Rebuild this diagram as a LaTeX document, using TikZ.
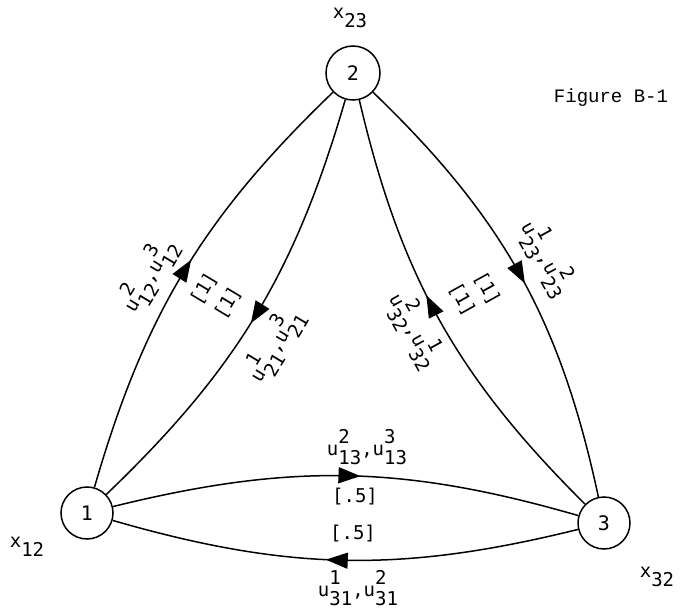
\documentclass[tikz,border=0pt]{standalone}
\usepackage{fontspec}
\setmonofont{DejaVu Sans Mono}
\newfontfamily\figfont{Liberation Mono}
\usetikzlibrary{arrows.meta,decorations.markings}
\newcommand\uu[2]{u\makebox[0pt][l]{\raisebox{0.62em}{#1}}\raisebox{-0.5em}{#2}}
\newcommand\xx[1]{x\raisebox{-0.5em}{#1}}
\tikzset{
  circ/.style={draw,circle,line width=1.5pt,inner sep=0pt,font=\ttfamily\fontsize{20}{22}\selectfont},
  edge/.style={line width=1.5pt,postaction={decorate},
    decoration={markings,mark=at position #1 with {\arrow{Triangle[length=22pt,width=16pt]}}}},
  edge/.default=0.55,
  lab/.style={inner sep=0pt}
}
\begin{document}
\begin{tikzpicture}[x=1pt,y=-1pt,font=\ttfamily\fontsize{19}{22}\selectfont]
\useasboundingbox[fill=white] (0,0) rectangle (683,615);
\node[circ,minimum size=54pt] (n2) at (353,73) {2};
\node[circ,minimum size=52pt] (n1) at (87,513) {1};
\node[circ,minimum size=52pt] (n3) at (604,523) {3};
% edges 1-2
\draw[edge=0.53] (n1) to[bend left=15] (n2);
\draw[edge=0.52] (n2) to[bend left=15] (n1);
% edges 2-3
\draw[edge=0.52] (n2) to[bend left=17] (n3);
\draw[edge=0.56] (n3) to[bend left=16] (n2);
% edges 1-3
\draw[edge=0.53] (n1) to[bend left=15] (n3);
\draw[edge=0.54] (n3) to[bend left=15] (n1);
% labels
\node[lab] (x23) at (350,18) {\xx{23}};
\node[lab] (x12) at (27,547) {\xx{12}};
\node[lab] (x32) at (657,577) {\xx{32}};
\node[lab,font=\figfont\fontsize{19}{22}\selectfont] (fig) at (611,98) {Figure B-1};
\node[lab,rotate=59] (l12) at (148,275) {\uu{2}{12},\uu{3}{12}};
\node[lab,rotate=59] (w12) at (204,289) {[1]};
\node[lab,rotate=59] (w21) at (228,303) {[1]};
\node[lab,rotate=59] (l21) at (274,345) {\uu{1}{21},\uu{3}{21}};
\node[lab,rotate=-61] (l23) at (547,258) {\uu{1}{23},\uu{2}{23}};
\node[lab,rotate=-61] (w23) at (487,289) {[1]};
\node[lab,rotate=-61] (w32) at (462,300) {[1]};
\node[lab,rotate=-61] (l32) at (415,330) {\uu{2}{32},\uu{1}{32}};
\node[lab] (l13) at (367,447) {\uu{2}{13},\uu{3}{13}};
\node[lab] (w13) at (355,497) {[.5]};
\node[lab] (w31) at (353,534) {[.5]};
\node[lab] (l31) at (358,588) {\uu{1}{31},\uu{2}{31}};
\end{tikzpicture}
\end{document}
